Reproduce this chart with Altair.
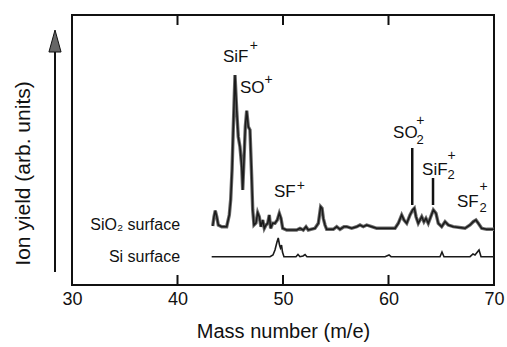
import altair as alt
import pandas as pd

# ---- data ----
sio2_mass = [43.34, 43.46, 43.58, 43.72, 43.87, 44.19, 44.66, 44.91, 45.04, 45.17, 45.29, 45.45,
             45.61, 45.76, 45.92, 46.09, 46.18, 46.30, 46.43, 46.56, 46.71, 46.87, 47.03, 47.13,
             47.25, 47.44, 47.60, 47.75, 47.91, 48.08, 48.23, 48.39, 48.55, 48.70, 48.83, 49.02,
             49.24, 49.46, 49.65, 49.81, 49.97, 50.35, 51.30, 51.61, 51.92, 52.18, 52.40, 53.03,
             53.35, 53.57, 53.70, 53.82, 53.98, 54.14, 54.77, 55.09, 55.40, 55.78, 56.04, 56.51,
             56.99, 57.30, 57.61, 57.93, 58.41, 58.88, 60.62, 60.93, 61.25, 61.47, 61.73, 62.04,
             62.29, 62.45, 62.61, 62.82, 63.15, 63.36, 63.55, 63.77, 64.25, 64.50, 64.72, 65.04,
             65.36, 65.67, 66.14, 67.25, 67.73, 68.04, 68.29, 68.51, 68.83, 69.31, 70.0]
sio2_yield = [59, 68.3, 74.3, 68.3, 60, 58.3, 58.3, 70, 85, 115, 158.3, 210,
              175, 148.3, 138.3, 118.3, 95, 125, 158.3, 174.3, 158.3, 155, 108.3, 75,
              60, 62, 72.3, 68.3, 58.3, 65, 56.7, 60, 61.7, 70, 56.7, 61.7,
              61.7, 65, 71.7, 66.7, 56.7, 55, 55, 56.7, 55, 58.3, 55, 56.7,
              61.7, 78.3, 76.7, 66.7, 60, 55.7, 55.7, 58.3, 55.7, 58.3, 58.3, 56.7,
              58.3, 60, 58.3, 60, 58.3, 56.7, 56.7, 61.7, 70, 65, 61.7, 70,
              75, 76.7, 68.3, 61.7, 68.3, 63.3, 66.7, 61.7, 75, 71.7, 61.7, 58.3,
              63.3, 60, 58.3, 56.7, 60, 63.3, 65, 61.7, 56.7, 55.7, 55.7]

si_mass = [43.24, 48.77, 49.05, 49.24, 49.43, 49.55, 49.67, 49.76, 49.86, 49.95, 50.09,
           51.23, 51.42, 51.61, 51.90, 52.09, 52.27, 59.67, 60.05, 60.24, 64.88, 65.07,
           65.26, 67.73, 68.01, 68.20, 68.58, 68.77, 70.0]
si_yield = [28.3, 28.3, 30, 35, 43, 47, 40, 37, 40, 33, 28.3,
            28.3, 30.5, 28.3, 29, 30.5, 28.3, 28.3, 30, 28.3, 28.3, 33,
            28.3, 28.3, 31, 30, 35, 28.3, 28.3]

# peak labels
lab_text = ["SiF", "SO", "SF", "SO", "SiF", "SF"]
lab_mass = [44.31, 45.92, 49.15, 60.43, 63.18, 66.49]
lab_yield = [223, 192, 88, 147, 110, 78]
sub_text = ["2", "2", "2"]
sub_mass = [62.65, 65.60, 68.62]
sub_yield = [141, 106, 73]
sup_text = ["+", "+", "+", "+", "+", "+"]
sup_mass = [46.85, 48.25, 51.30, 62.62, 65.60, 68.62]
sup_yield = [235, 201, 95, 160, 125, 94]

# marker lines for SO2+ and SiF2+
mark_mass = [62.25, 64.22]
mark_top = [137, 107]
mark_bot = [80, 80]

# series labels
series_text = ["SiO\u2082 surface", "Si surface"]
series_mass = [40.24, 40.24]
series_yield = [55, 23]

tick_vals = [30, 40, 50, 60, 70]
inner_ticks = [40, 50, 60]

# ---- build ----
FONT = "Liberation Sans"
INK = "#111111"
xs = alt.Scale(domain=[30, 70], nice=False, zero=False)
ys = alt.Scale(domain=[0, 270], nice=False, zero=False)

df_sio2 = pd.DataFrame({"m": sio2_mass, "v": sio2_yield})
df_si = pd.DataFrame({"m": si_mass, "v": si_yield})

xenc = alt.X("m:Q", scale=xs,
             axis=alt.Axis(values=tick_vals, title="Mass number (m/e)", grid=False,
                           ticks=False, domain=False, labelFontSize=18, labelFont=FONT,
                           labelColor=INK, labelPadding=5, titleFont=FONT,
                           titleFontSize=20, titleFontWeight="normal", titleColor=INK,
                           titlePadding=13, labelFlush=False))
yenc = alt.Y("v:Q", scale=ys,
             axis=alt.Axis(labels=False, ticks=False, domain=False, grid=False,
                           title="Ion yield (arb. units)", titleFont=FONT,
                           titleFontSize=21, titleFontWeight="normal", titleColor=INK,
                           titleAngle=-90, titleX=-43, titleY=158,
                           titleBaseline="alphabetic", titleAlign="center"))

sio2_under = alt.Chart(df_sio2).mark_line(color="#6a6a6a", strokeWidth=3.4).encode(x=xenc, y=yenc)
sio2_line = alt.Chart(df_sio2).mark_line(color="#1a1a1a", strokeWidth=1.5).encode(x="m:Q", y="v:Q")
si_line = alt.Chart(df_si).mark_line(color="#1a1a1a", strokeWidth=1.6).encode(x="m:Q", y="v:Q")

df_marks = pd.DataFrame({"m": mark_mass, "t": mark_top, "b": mark_bot})
marks = alt.Chart(df_marks).mark_rule(color=INK, strokeWidth=2.5).encode(
    x="m:Q", y="b:Q", y2="t:Q")

df_lab = pd.DataFrame({"m": lab_mass, "v": lab_yield, "t": lab_text})
labs = alt.Chart(df_lab).mark_text(font=FONT, fontSize=17, align="left",
                                   baseline="alphabetic", fill=INK).encode(
    x="m:Q", y="v:Q", text="t:N")
df_sub = pd.DataFrame({"m": sub_mass, "v": sub_yield, "t": sub_text})
subs = alt.Chart(df_sub).mark_text(font=FONT, fontSize=13, align="left",
                                   baseline="alphabetic", fill=INK).encode(
    x="m:Q", y="v:Q", text="t:N")
df_sup = pd.DataFrame({"m": sup_mass, "v": sup_yield, "t": sup_text})
sups = alt.Chart(df_sup).mark_text(font=FONT, fontSize=14, align="left",
                                   baseline="alphabetic", fill=INK).encode(
    x="m:Q", y="v:Q", text="t:N")

df_ser = pd.DataFrame({"m": series_mass, "v": series_yield, "t": series_text})
sers = alt.Chart(df_ser).mark_text(font=FONT, fontSize=16, align="right",
                                   baseline="alphabetic", fill=INK).encode(
    x="m:Q", y="v:Q", text="t:N")

df_ticks = pd.DataFrame({"m": inner_ticks})
ticks_bot = alt.Chart(df_ticks).mark_rule(color=INK, strokeWidth=2).encode(
    x="m:Q", y=alt.value(270), y2=alt.value(260))
ticks_top = alt.Chart(df_ticks).mark_rule(color=INK, strokeWidth=2).encode(
    x="m:Q", y=alt.value(0), y2=alt.value(10))

df_one = pd.DataFrame({"k": [0]})
arrow_shaft = alt.Chart(df_one).mark_rule(color=INK, strokeWidth=2).encode(
    x=alt.value(-17), y=alt.value(36), y2=alt.value(257))
arrow_head = alt.Chart(df_one).mark_point(
    shape="M0,-1L0.55,1L-0.55,1Z", filled=True, fill="#666", stroke=INK,
    strokeWidth=1, size=484, opacity=1).encode(x=alt.value(-17), y=alt.value(26))

chart = alt.layer(
    sio2_under, sio2_line, si_line, marks, labs, subs, sups, sers,
    ticks_bot, ticks_top, arrow_shaft, arrow_head
).properties(
    width=422, height=270,
    autosize=alt.AutoSizeParams(type="none"),
    padding={"left": 72, "top": 15, "right": 13, "bottom": 62},
    background="white"
).configure_view(stroke=INK, strokeWidth=2)

chart.save("out.html", embed_options={"renderer": "svg", "actions": False})
